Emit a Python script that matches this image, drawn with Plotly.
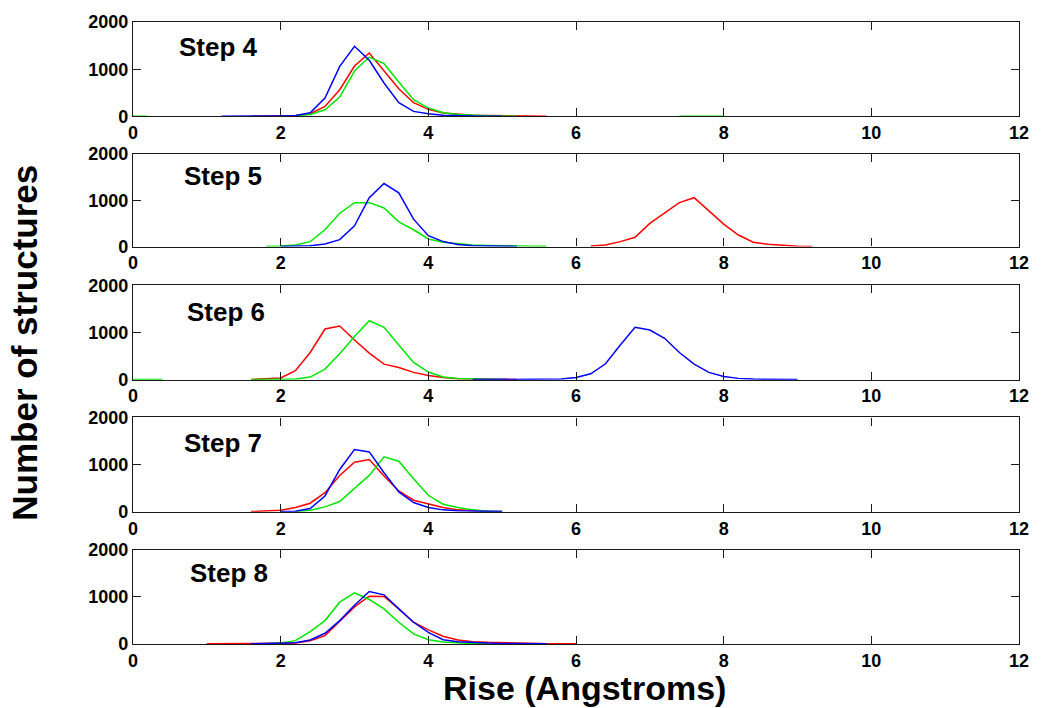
import numpy as np
import plotly.graph_objects as go
from plotly.subplots import make_subplots

# Histogram bin centres (Angstroms), 0.2 A wide
BIN_WIDTH = 0.2

steps = ["Step 4", "Step 5", "Step 6", "Step 7", "Step 8"]

# Each series: (first bin centre, counts per consecutive bin); None breaks the line
step4_red = (1.6, [3, 5, 8, 15, 57, 212, 565, 1067, 1343, 976, 587, 290, 150, 70, 40, 25, 18, 12, 8, 6, 4])
step4_green = (0.0, [5, 3, None, None, None, None, None, None, None, None,
                     5, 15, 42, 141, 410, 960, 1258, 1117, 728, 353, 177, 78, 42, 20, 12, 6, 3,
                     None, None, None, None, None, None, None, None, None, None, 3, 8, 5, 2])
step4_blue = (1.2, [3, 3, 5, 5, 8, 20, 78, 390, 1060, 1485, 1190, 707, 290, 106, 56, 25, 12, 6, 3, 2])

step5_red = (6.2, [10, 36, 107, 200, 500, 735, 950, 1057, 770, 485, 250, 93, 50, 21, 7, 3])
step5_green = (1.8, [3, 10, 36, 107, 364, 721, 950, 950, 836, 536, 364, 164, 93, 57, 36, 25, 15, 10, 8, 5])
step5_blue = (2.0, [3, 8, 20, 57, 150, 450, 1057, 1364, 1164, 593, 236, 107, 43, 20, 10, 5, 3])

step6_red = (1.6, [5, 14, 35, 190, 576, 1074, 1137, 842, 562, 330, 260, 155, 91, 49, 21, 14, 8, 5, 3])
step6_green = (0.0, [5, 5, 3, None, None, None, None, None,
                     3, 5, 8, 14, 56, 225, 548, 913, 1250, 1109, 737, 365, 162, 56, 28, 14, 8, 3])
step6_blue = (4.6, [2, 2, 3, 5, 8, 10, 14, 49, 126, 337, 737, 1109, 1053, 878, 576, 330, 155, 70, 28, 14, 8, 5, 3])

step7_red = (1.6, [5, 14, 35, 91, 183, 407, 772, 1053, 1109, 758, 442, 246, 161, 91, 42, 21, 10, 5])
step7_green = (2.2, [5, 35, 105, 218, 498, 772, 1165, 1074, 702, 351, 161, 91, 42, 14, 5])
step7_blue = (2.0, [5, 14, 70, 337, 898, 1320, 1270, 828, 421, 197, 91, 42, 21, 12, 8, 5])

step8_red = (1.0, [3, 3, 3, 5, 8, 14, 21, 71, 177, 475, 787, 1014, 1007, 744, 461, 298, 163, 85, 50, 35, 25, 18, 12, 8, 5, 3])
step8_green = (1.8, [5, 21, 71, 262, 496, 886, 1085, 943, 744, 461, 213, 92, 43, 21, 10, 5])
step8_blue = (1.6, [3, 8, 14, 28, 85, 227, 496, 822, 1113, 1042, 744, 461, 248, 92, 50, 28, 20, 12, 8, 5, 3])

series_by_step = [
    (step4_red, step4_green, step4_blue),
    (step5_red, step5_green, step5_blue),
    (step6_red, step6_green, step6_blue),
    (step7_red, step7_green, step7_blue),
    (step8_red, step8_green, step8_blue),
]
colors = ["#ff0000", "#00e600", "#0000ff"]

# Label anchor (left edge x, y-centre) for each panel title
label_pos = [(0.60, 1480), (0.67, 1520), (0.71, 1430), (0.67, 1460), (0.74, 1510)]

x_ticks = [0, 2, 4, 6, 8, 10, 12]
y_ticks = [0, 1000, 2000]

FONT = "Liberation Sans, Arial, sans-serif"

# Panel placement in pixels (top, bottom) on a 708 px tall page
W, H = 1041, 708
M_L, M_R, M_T, M_B = 133, 16, 18, 64
panel_px = [(18, 113), (151, 244), (283, 378), (416, 511), (549, 644)]
plot_h = H - M_T - M_B
plot_w = W - M_L - M_R

fig = make_subplots(rows=5, cols=1)

for i, group in enumerate(series_by_step):
    for (start, counts), color in zip(group, colors):
        xs = [round(start + BIN_WIDTH * k, 1) for k in range(len(counts))]
        fig.add_trace(
            go.Scatter(x=xs, y=counts, mode="lines",
                       line=dict(color=color, width=1.5),
                       connectgaps=False, showlegend=False, hoverinfo="skip"),
            row=i + 1, col=1,
        )

    top, bottom = panel_px[i]
    dom = [(H - M_B - bottom) / plot_h, (H - M_B - top) / plot_h]
    xa = "xaxis" if i == 0 else f"xaxis{i + 1}"
    ya = "yaxis" if i == 0 else f"yaxis{i + 1}"
    axis_common = dict(
        showline=True, linecolor="#1a1a1a", linewidth=1.3, mirror="ticks",
        ticks="inside", ticklen=8, tickwidth=1.2, tickcolor="#1a1a1a",
        showgrid=False, zeroline=False,
        tickfont=dict(family=FONT, size=18, color="black", weight="bold"),
    )
    fig.layout[xa].update(range=[0, 12], tickvals=x_ticks, domain=[0, 1], **axis_common)
    fig.layout[ya].update(range=[0, 2000], tickvals=y_ticks, domain=dom, **axis_common)

    lx, ly = label_pos[i]
    fig.add_annotation(
        x=lx, y=ly, xref=f"x{i + 1}" if i else "x", yref=f"y{i + 1}" if i else "y",
        text=f"<b>{steps[i]}</b>", showarrow=False, xanchor="left", yanchor="middle",
        font=dict(family=FONT, size=26, color="black"),
    )

# Shared axis titles
fig.add_annotation(
    x=(24 - M_L) / plot_w, y=(H - M_B - 341) / plot_h, xref="paper", yref="paper",
    text="<b>Number of structures</b>", textangle=-90, showarrow=False,
    xanchor="center", yanchor="middle",
    font=dict(family=FONT, size=35, color="black"),
)
fig.add_annotation(
    x=(588 - M_L) / plot_w, y=(H - M_B - 688) / plot_h, xref="paper", yref="paper",
    text="<b>Rise (Angstroms)</b>", showarrow=False,
    xanchor="center", yanchor="middle",
    font=dict(family=FONT, size=34, color="black"),
)

fig.update_layout(
    width=W, height=H,
    margin=dict(l=M_L, r=M_R, t=M_T, b=M_B),
    paper_bgcolor="white", plot_bgcolor="white",
)

fig.write_html("out.html")
